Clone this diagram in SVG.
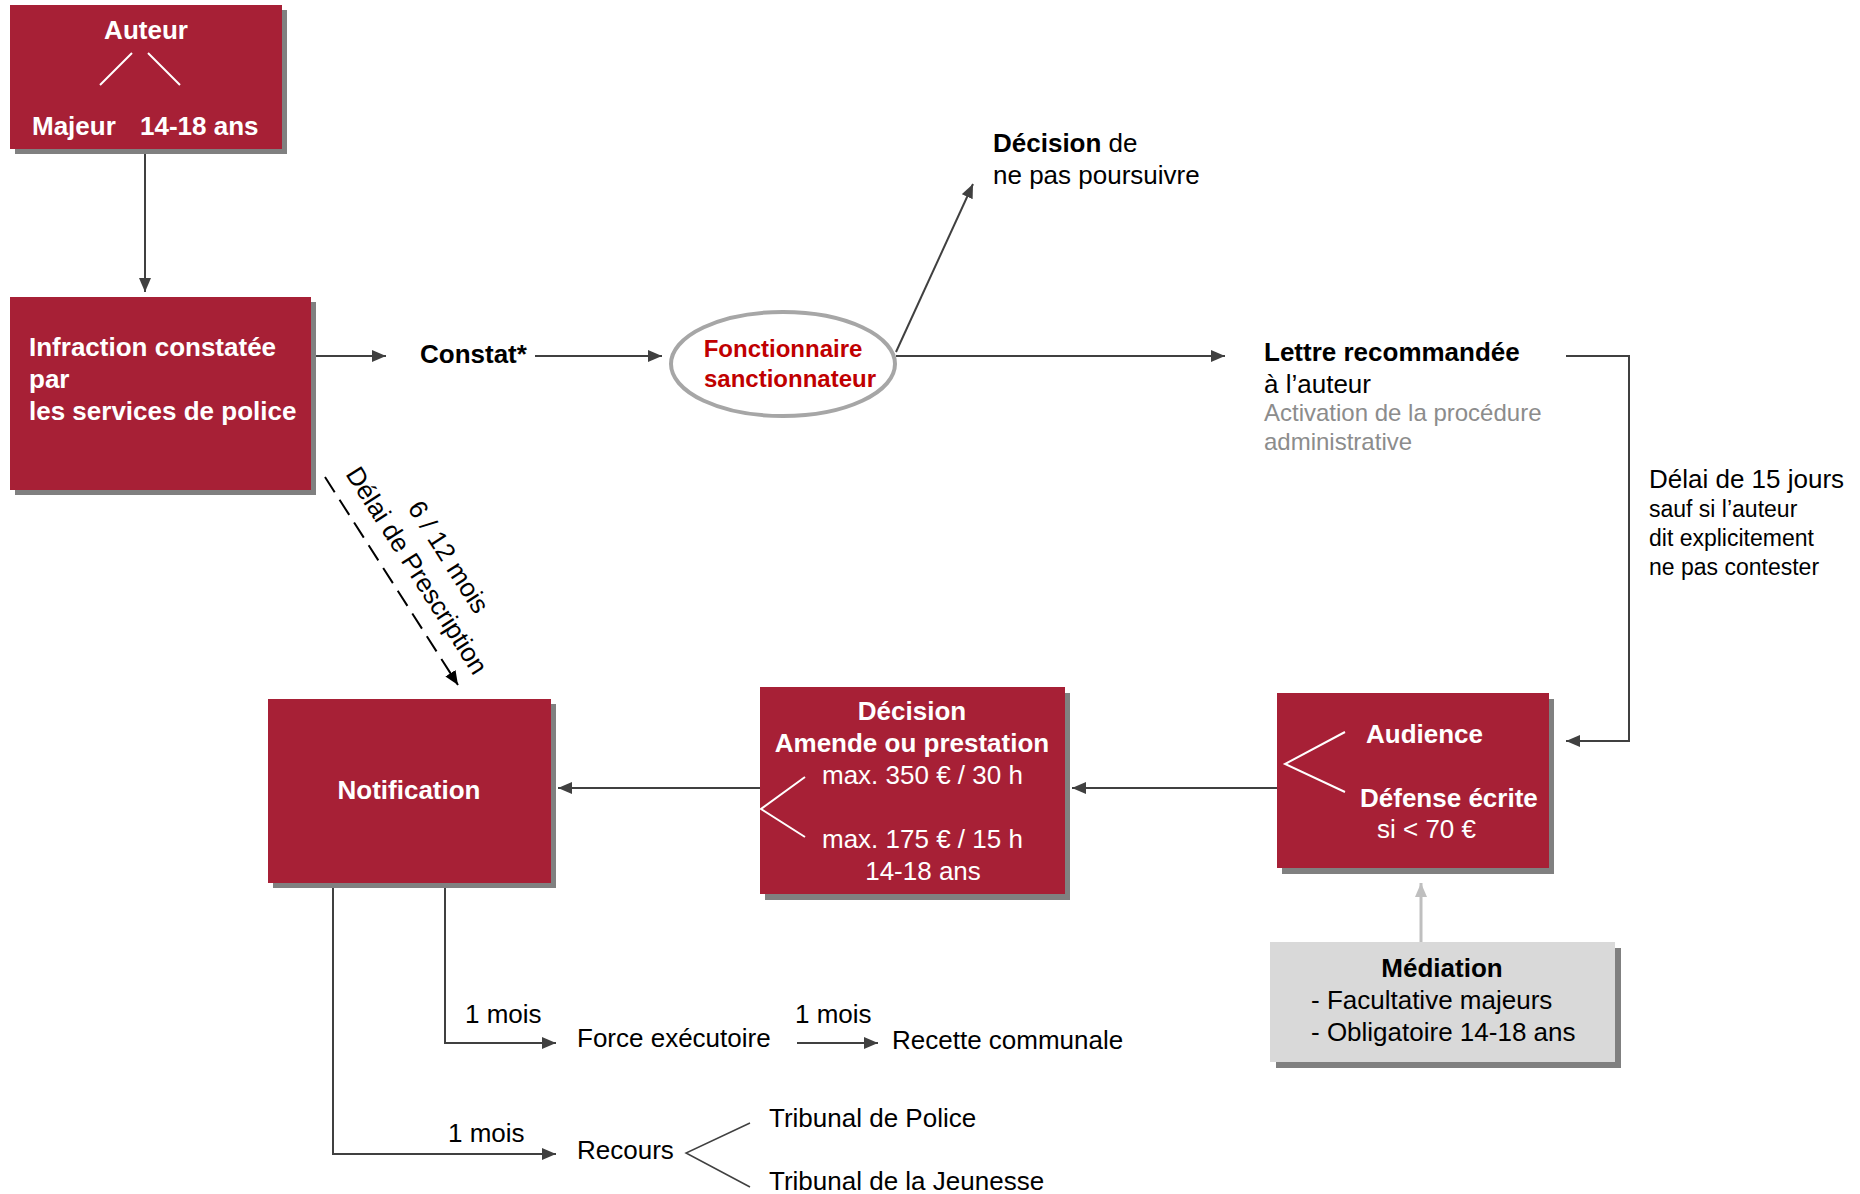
<svg xmlns="http://www.w3.org/2000/svg" width="1860" height="1194" viewBox="0 0 1860 1194">
<style>
  .box{fill:#a72036}
  .shd{fill:#808080}
  .w{fill:#ffffff;font-family:"Liberation Sans",Arial,sans-serif;font-size:26px}
  .k{fill:#000000;font-family:"Liberation Sans",Arial,sans-serif;font-size:26px}
  .b{font-weight:bold}
  .sm{font-size:23px}
  .grey{fill:#8c8c8c;font-size:24px}
  .red{fill:#c00000;font-size:24px;font-weight:bold;font-family:"Liberation Sans",Arial,sans-serif}
  .c{stroke:#404040;stroke-width:2;fill:none}
  .wl{stroke:#ffffff;stroke-width:2;fill:none}
  .mid{text-anchor:middle}
</style>
<defs>
  <marker id="arr" markerUnits="userSpaceOnUse" viewBox="0 0 14 12" refX="14" refY="6" markerWidth="14" markerHeight="12" orient="auto">
    <path d="M0,0 L14,6 L0,12 z" fill="#404040"/>
  </marker>
  <marker id="arrK" markerUnits="userSpaceOnUse" viewBox="0 0 14 12" refX="14" refY="6" markerWidth="14" markerHeight="12" orient="auto">
    <path d="M0,0 L14,6 L0,12 z" fill="#000000"/>
  </marker>
  <marker id="arrG" markerUnits="userSpaceOnUse" viewBox="0 0 14 12" refX="14" refY="6" markerWidth="14" markerHeight="12" orient="auto">
    <path d="M0,0 L14,6 L0,12 z" fill="#bfbfbf"/>
  </marker>
</defs>
<rect x="0" y="0" width="1860" height="1194" fill="#ffffff"/>

<g id="connectors">
  <path class="c" d="M145,150 V292" marker-end="url(#arr)"/>
  <path class="c" d="M311,356 H386" marker-end="url(#arr)"/>
  <path class="c" d="M535,356 H662" marker-end="url(#arr)"/>
  <path class="c" d="M896,356 H1225" marker-end="url(#arr)"/>
  <path class="c" d="M896,352 L973,184" marker-end="url(#arr)"/>
  <path class="c" d="M1566,356 H1629 V741 H1566" marker-end="url(#arr)"/>
  <path class="c" d="M1277,788 H1072" marker-end="url(#arr)"/>
  <path class="c" d="M760,788 H558" marker-end="url(#arr)"/>
  <path d="M1421,942 V883" stroke="#bfbfbf" stroke-width="3" fill="none" marker-end="url(#arrG)"/>
  <path class="c" d="M445,883 V1043 H556" marker-end="url(#arr)"/>
  <path class="c" d="M797,1043 H878" marker-end="url(#arr)"/>
  <path class="c" d="M333,883 V1154 H556" marker-end="url(#arr)"/>
  <path d="M750,1123 L686,1153 L750,1187" stroke="#404040" stroke-width="1.5" fill="none"/>
  <path d="M325,477 L458,685" stroke="#000000" stroke-width="2" stroke-dasharray="18 9" fill="none" marker-end="url(#arrK)"/>
  <text class="k" transform="translate(345,474) rotate(57.5)">Délai de Prescription</text>
  <text class="k" transform="translate(407,508) rotate(57.5)">6 / 12 mois</text>
</g>

<g id="auteur">
  <rect class="shd" x="15" y="10" width="272" height="144"/>
  <rect class="box" x="10" y="5" width="272" height="144"/>
  <text class="w b mid" x="146" y="39">Auteur</text>
  <path class="wl" d="M132,53 L100,85 M148,53 L180,85"/>
  <text class="w b" x="32" y="135">Majeur</text>
  <text class="w b" x="140" y="135">14-18 ans</text>
</g>

<g id="infraction">
  <rect class="shd" x="15" y="302" width="301" height="193"/>
  <rect class="box" x="10" y="297" width="301" height="193"/>
  <text class="w b" x="29" y="356">Infraction constatée</text>
  <text class="w b" x="29" y="388">par</text>
  <text class="w b" x="29" y="420">les services de police</text>
</g>

<g id="constat">
  <text class="k b" x="420" y="363">Constat*</text>
</g>

<g id="fonctionnaire">
  <ellipse cx="783" cy="364" rx="112" ry="52" fill="#ffffff" stroke="#a6a6a6" stroke-width="4"/>
  <text class="red mid" x="783" y="357">Fonctionnaire</text>
  <text class="red mid" x="790" y="387">sanctionnateur</text>
</g>

<g id="decision-non-poursuite">
  <text class="k" x="993" y="152"><tspan font-weight="bold">Décision</tspan> de</text>
  <text class="k" x="993" y="184">ne pas poursuivre</text>
</g>

<g id="lettre">
  <text class="k b" x="1264" y="361">Lettre recommandée</text>
  <text class="k" x="1264" y="393">à l’auteur</text>
  <text class="k grey" x="1264" y="421">Activation de la procédure</text>
  <text class="k grey" x="1264" y="450">administrative</text>
</g>

<g id="delai15">
  <text class="k" x="1649" y="488">Délai de 15 jours</text>
  <text class="k sm" x="1649" y="517">sauf si l’auteur</text>
  <text class="k sm" x="1649" y="546">dit explicitement</text>
  <text class="k sm" x="1649" y="575">ne pas contester</text>
</g>

<g id="notification">
  <rect class="shd" x="273" y="704" width="283" height="184"/>
  <rect class="box" x="268" y="699" width="283" height="184"/>
  <text class="w b mid" x="409" y="799">Notification</text>
</g>

<g id="decision">
  <rect class="shd" x="765" y="693" width="305" height="207"/>
  <rect class="box" x="760" y="687" width="305" height="207"/>
  <text class="w b mid" x="912" y="720">Décision</text>
  <text class="w b mid" x="912" y="752">Amende ou prestation</text>
  <text class="w" x="822" y="784">max. 350 € / 30 h</text>
  <path class="wl" d="M805,777 L761,809 L805,837"/>
  <text class="w" x="822" y="848">max. 175 € / 15 h</text>
  <text class="w mid" x="923" y="880">14-18 ans</text>
</g>

<g id="audience">
  <rect class="shd" x="1282" y="699" width="272" height="175"/>
  <rect class="box" x="1277" y="693" width="272" height="175"/>
  <path class="wl" d="M1345,732 L1285,764 L1345,792"/>
  <text class="w b" x="1366" y="743">Audience</text>
  <text class="w b" x="1360" y="807">Défense écrite</text>
  <text class="w" x="1377" y="838">si &lt; 70 €</text>
</g>

<g id="mediation">
  <rect class="shd" x="1276" y="948" width="345" height="120"/>
  <rect x="1270" y="942" width="345" height="120" fill="#d9d9d9"/>
  <text class="k b mid" x="1442" y="977">Médiation</text>
  <text class="k" x="1311" y="1009">- Facultative majeurs</text>
  <text class="k" x="1311" y="1041">- Obligatoire 14-18 ans</text>
</g>

<g id="force-executoire">
  <text class="k" x="465" y="1023">1 mois</text>
  <text class="k" x="577" y="1047">Force exécutoire</text>
</g>

<g id="recette">
  <text class="k" x="795" y="1023">1 mois</text>
  <text class="k" x="892" y="1049">Recette communale</text>
</g>

<g id="recours">
  <text class="k" x="448" y="1142">1 mois</text>
  <text class="k" x="577" y="1159">Recours</text>
</g>

<g id="tribunaux">
  <text class="k" x="769" y="1127">Tribunal de Police</text>
  <text class="k" x="769" y="1190">Tribunal de la Jeunesse</text>
</g>
</svg>
